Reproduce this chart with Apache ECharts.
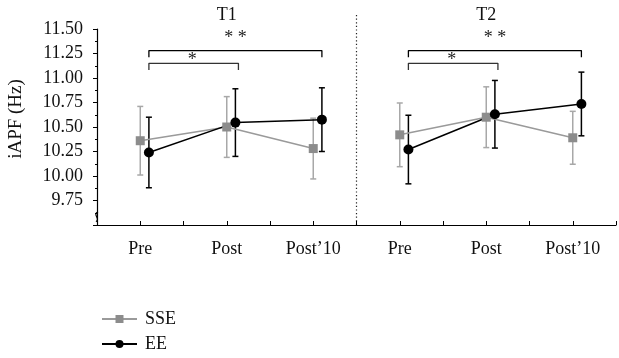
<!DOCTYPE html>
<html>
<head>
<meta charset="utf-8">
<script src="https://cdn.jsdelivr.net/npm/echarts@6/dist/echarts.min.js"></script>
<style>html,body{margin:0;padding:0;background:#fff}#c{width:619px;height:358px}</style>
</head>
<body>
<div id="c"></div>
<script>
// ---- data ----
const categories = ['Pre', 'Post', 'Post\u201910', 'Pre', 'Post', 'Post\u201910'];
const panels = ['T1', 'T2'];
const sseMean = [10.36, 10.50, 10.28, 10.42, 10.60, 10.39];
const sseSD   = [0.35, 0.31, 0.31, 0.325, 0.31, 0.27];
const eeMean  = [10.24, 10.545, 10.575, 10.27, 10.63, 10.735];
const eeSD    = [0.36, 0.345, 0.325, 0.35, 0.345, 0.325];
const yTicks  = [9.75, 10.00, 10.25, 10.50, 10.75, 11.00, 11.25, 11.50];
// significance brackets: from category index to category index, label
const bracketFrom  = [0, 0, 3, 3];
const bracketTo    = [2, 1, 5, 4];
const bracketLabel = ['* *', '*', '* *', '*'];

const FONT = 'Liberation Serif';
const FS = 18;
const EE_SHIFT = 0.1;           // horizontal offset of EE markers (category units)
const GRAY_LINE = '#9a9a9a', GRAY_MARK = '#8c8c8c', GRAY_ERR = '#a8a8a8';

function pts(mean, idxs, shift) { return idxs.map(i => [i + 0.5 + shift, mean[i]]); }
function errData(mean, sd, shift) { return mean.map((m, i) => [i + 0.5 + shift, m - sd[i], m + sd[i]]); }

function errSeries(name, mean, sd, shift, color) {
  return {
    type: 'custom', name: name + ' err', silent: true,
    renderItem: function (params, api) {
      const x = api.value(0);
      const lo = api.coord([x, api.value(1)]);
      const hi = api.coord([x, api.value(2)]);
      const w = 3;
      const st = { stroke: color, lineWidth: 1.5 };
      return { type: 'group', children: [
        { type: 'line', shape: { x1: lo[0], y1: lo[1], x2: hi[0], y2: hi[1] }, style: st },
        { type: 'line', shape: { x1: lo[0] - w, y1: lo[1], x2: lo[0] + w, y2: lo[1] }, style: st },
        { type: 'line', shape: { x1: hi[0] - w, y1: hi[1], x2: hi[0] + w, y2: hi[1] }, style: st }
      ]};
    },
    encode: { x: 0, y: [1, 2] },
    data: errData(mean, sd, shift), z: 2
  };
}

function lineSeries(name, data, color, mColor, symbol, size, lw) {
  return {
    type: 'line', name: name, data: data, symbol: symbol, symbolSize: size,
    lineStyle: { color: color, width: lw }, itemStyle: { color: mColor },
    emphasis: { disabled: true }, z: 3, animation: false
  };
}

// bracket line series (data coords)
const BR_Y = [11.28, 11.15, 11.28, 11.15];
const BR_DROP = 0.068;
const bracketSeries = bracketFrom.map((f, k) => ({
  type: 'line', silent: true, symbol: 'none', z: 4,
  lineStyle: { color: k % 2 ? '#333' : '#000', width: 1.3 },
  data: [[f + 0.5 + EE_SHIFT, BR_Y[k] - BR_DROP], [f + 0.5 + EE_SHIFT, BR_Y[k]],
         [bracketTo[k] + 0.5 + EE_SHIFT + (k % 2 ? 0.035 : 0), BR_Y[k]],
         [bracketTo[k] + 0.5 + EE_SHIFT + (k % 2 ? 0.035 : 0), BR_Y[k] - BR_DROP]]
}));

const legendBase = {
  orient: 'vertical', left: 96, itemWidth: 35, itemHeight: 10,
  textStyle: { fontFamily: FONT, fontSize: FS, color: '#111', padding: [0, 0, 0, 3] },
  selectedMode: false
};

const chart = echarts.init(document.getElementById('c'), null, { renderer: 'canvas' });
const option = {
  animation: false,
  backgroundColor: '#fff',
  textStyle: { fontFamily: FONT },
  grid: { left: 97, right: -6, top: 29, bottom: 133, containLabel: false },
  legend: [
    Object.assign({}, legendBase, { data: ['SSE'], top: 305 }),
    Object.assign({}, legendBase, { data: ['EE'], top: 330 })
  ],
  xAxis: {
    type: 'value', min: 0, max: 6, interval: 0.5,
    axisLine: { lineStyle: { color: '#000', width: 1.2 } },
    axisTick: { inside: true, length: 4, lineStyle: { color: '#000' } },
    splitLine: { show: false },
    axisLabel: {
      margin: 15, fontFamily: FONT, fontSize: FS, color: '#111',
      showMinLabel: true, showMaxLabel: true,
      formatter: function (v) {
        const k = Math.round(v * 2);
        return (k % 2 === 1) ? categories[(k - 1) / 2] : '';
      }
    }
  },
  yAxis: {
    type: 'value', min: 9.5, max: 11.5, interval: 0.25,
    axisLine: { show: true, lineStyle: { color: '#000', width: 1.2 } },
    axisTick: { show: true, length: 4, lineStyle: { color: '#000' } },
    minorTick: { show: true, splitNumber: 2, length: 2, lineStyle: { color: '#000' } },
    splitLine: { show: false },
    axisLabel: {
      margin: 14, fontFamily: FONT, fontSize: FS, color: '#111',
      formatter: function (v) { return yTicks.some(t => Math.abs(t - v) < 1e-6) ? v.toFixed(2) : ''; }
    }
  },
  series: [
    errSeries('SSE', sseMean, sseSD, 0, GRAY_ERR),
    lineSeries('SSE', pts(sseMean, [0, 1, 2], 0), GRAY_LINE, GRAY_MARK, 'rect', 9, 1.5),
    lineSeries('SSE', pts(sseMean, [3, 4, 5], 0), GRAY_LINE, GRAY_MARK, 'rect', 9, 1.5),
    errSeries('EE', eeMean, eeSD, EE_SHIFT, '#000'),
    lineSeries('EE', pts(eeMean, [0, 1, 2], EE_SHIFT), '#000', '#000', 'circle', 10, 1.5),
    lineSeries('EE', pts(eeMean, [3, 4, 5], EE_SHIFT), '#000', '#000', 'circle', 10, 1.5)
  ].concat(bracketSeries)
};
chart.setOption(option);

// annotations positioned through the chart's own coordinate conversion
function px(x, y) { return chart.convertToPixel({ gridIndex: 0 }, [x, y]); }
const g = [];
// panel titles
panels.forEach((p, i) => {
  const c = px(i * 3 + 1.5, 11.5);
  g.push({ type: 'text', x: c[0], y: 15, style: { text: p, font: FS + 'px ' + FONT, fill: '#111', align: 'center', verticalAlign: 'middle' } });
});
// divider
const d = px(3, 9.5);
g.push({ type: 'line', shape: { x1: d[0], y1: 15, x2: d[0], y2: d[1] }, style: { stroke: '#222', lineWidth: 1.2, lineDash: [1.2, 2.4] } });
// bracket stars
bracketFrom.forEach((f, k) => {
  const x0 = f + 0.5 + EE_SHIFT, x1 = bracketTo[k] + 0.5 + EE_SHIFT;
  const c = px((x0 + x1) / 2, BR_Y[k]);
  const dy = k % 2 ? -6 : 3;
  g.push({ type: 'text', x: c[0], y: c[1] - dy, style: { text: bracketLabel[k], font: '18px ' + FONT, fill: '#222', align: 'center', verticalAlign: 'bottom' } });
});
// y-axis name
g.push({ type: 'text', x: 16, y: 119, rotation: Math.PI / 2, style: { text: 'iAPF (Hz)', font: '19px ' + FONT, fill: '#111', align: 'center', verticalAlign: 'middle' } });
// axis break mark
const b = px(0, 9.585);
g.push({ type: 'rect', shape: { x: b[0] - 3, y: b[1] - 5, width: 6, height: 10 }, style: { fill: '#fff' } });
g.push({ type: 'bezierCurve', shape: { x1: b[0] + 1, y1: b[1] - 5, cpx1: b[0] - 5, cpy1: b[1] - 2, cpx2: b[0] + 4, cpy2: b[1] + 2, x2: b[0] - 1, y2: b[1] + 5 }, style: { stroke: '#000', lineWidth: 1.2, fill: null } });
chart.setOption({ graphic: g });
</script>
</body>
</html>
